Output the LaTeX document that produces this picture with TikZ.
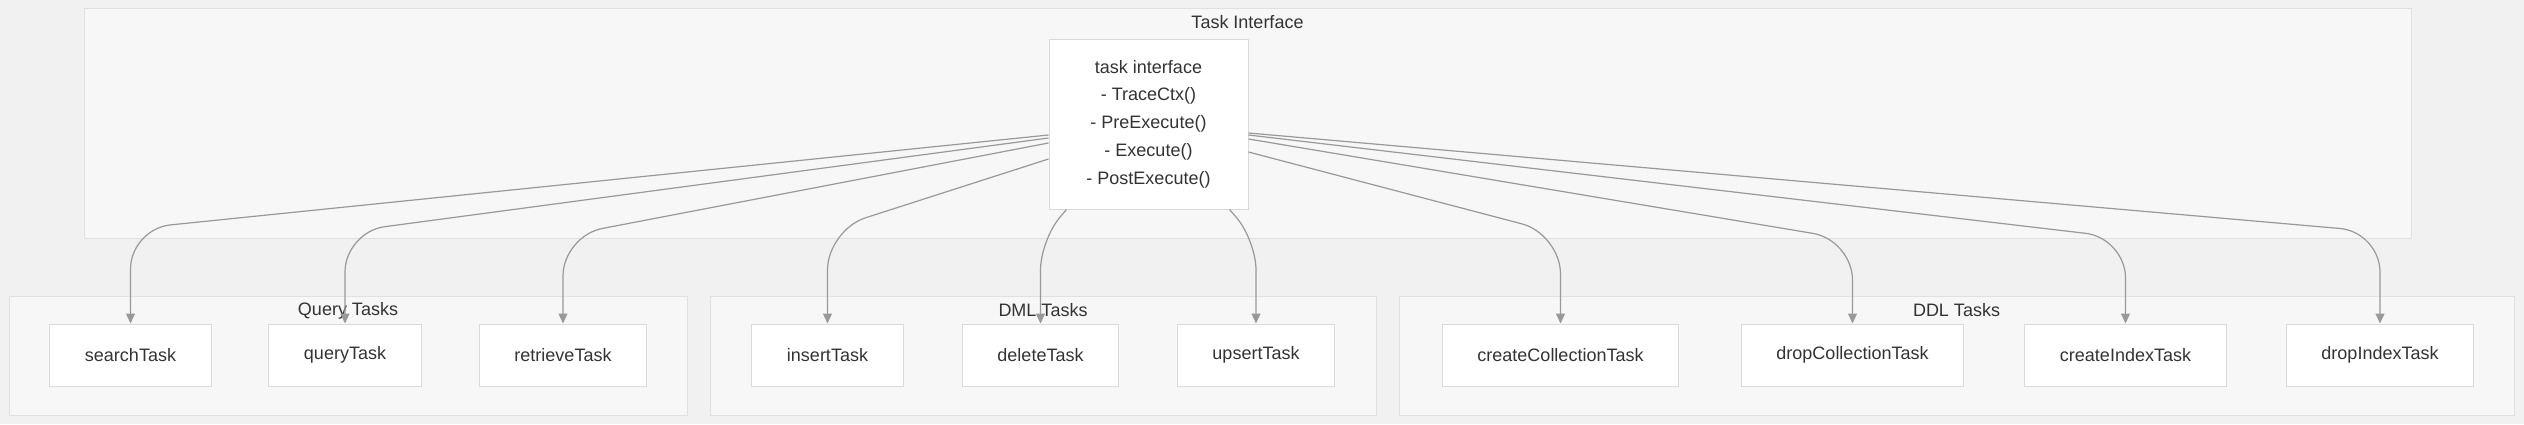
\documentclass[tikz,border=0pt]{standalone}
\usepackage{fontspec}
\setmainfont{Liberation Sans}
\usepackage{xcolor}
\usepackage{tikz}
\usetikzlibrary{arrows.meta}

\definecolor{pagebg}{HTML}{F1F1F1}
\definecolor{groupbg}{HTML}{F7F7F7}
\definecolor{groupline}{HTML}{E0E0E0}
\definecolor{boxline}{HTML}{DADADA}
\definecolor{edgegray}{HTML}{999999}
\definecolor{inktext}{HTML}{333333}

\begin{document}
\begin{tikzpicture}[x=0.5pt,y=-0.5pt,>={Triangle[length=5pt,width=4.5pt]},
  group/.style={draw=groupline,fill=groupbg,line width=0.5pt,inner sep=0pt},
  grouptitle/.style={font=\fontsize{9}{11}\selectfont,text=inktext,inner sep=0pt},
  task/.style={draw=boxline,fill=white,line width=0.5pt,minimum height=31pt,inner xsep=17.5pt,font=\fontsize{9}{11}\selectfont,text=inktext},
  flow/.style={->,draw=edgegray,line width=0.6pt,rounded corners=20pt}]
  \useasboundingbox (0,0) rectangle (2524,424);
  \fill[pagebg] (0,0) rectangle (2524,424);

  % clusters
  \node[group,minimum width=1163.5pt,minimum height=115pt] (tigroup) at (1247.5,123) {};
  \node[grouptitle] (tititle) at ([yshift=-7.5pt]tigroup.north) {Task Interface};
  \node[group,minimum width=339pt,minimum height=59.5pt] (querygroup) at (348,355.5) {};
  \node[grouptitle] (querytitle) at ([yshift=-7.5pt]querygroup.north) {Query Tasks};
  \node[group,minimum width=333pt,minimum height=59.5pt] (dmlgroup) at (1043,355.5) {};
  \node[grouptitle] (dmltitle) at ([yshift=-7.5pt]dmlgroup.north) {DML Tasks};
  \node[group,minimum width=557.5pt,minimum height=59.5pt] (ddlgroup) at (1956.5,355.5) {};
  \node[grouptitle] (ddltitle) at ([yshift=-7.5pt]ddlgroup.north) {DDL Tasks};

  % interface
  \node[task,minimum width=99.5pt,minimum height=85pt,align=center,font=\fontsize{9}{13.85}\selectfont] (ti) at (1148.5,124)
    {task interface\\- TraceCtx()\\- PreExecute()\\- Execute()\\- PostExecute()};

  % tasks
  \node[task] (searchTask) at (130.5,355) {searchTask};
  \node[task] (queryTask) at (345,355) {queryTask};
  \node[task] (retrieveTask) at (563,355) {retrieveTask};
  \node[task] (insertTask) at (827.5,355) {insertTask};
  \node[task] (deleteTask) at (1040.5,355) {deleteTask};
  \node[task] (upsertTask) at (1256,355) {upsertTask};
  \node[task] (createCollectionTask) at (1560.5,355) {createCollectionTask};
  \node[task] (dropCollectionTask) at (1852.5,355) {dropCollectionTask};
  \node[task] (createIndexTask) at (2125.5,355) {createIndexTask};
  \node[task] (dropIndexTask) at (2380,355) {dropIndexTask};

  % edges
  \draw[flow] ([yshift=-5.5pt]ti.west) -- (searchTask.north |- 0,229) -- (searchTask.north);
  \draw[flow] ([yshift=-7pt]ti.west) -- (queryTask.north |- 0,232) -- (queryTask.north);
  \draw[flow] ([yshift=-9.5pt]ti.west) -- (retrieveTask.north |- 0,236) -- (retrieveTask.north);
  \draw[flow] ([yshift=-17.5pt]ti.west) -- (insertTask.north |- 0,230) -- (insertTask.north);
  \draw[flow,rounded corners=15pt] ([xshift=9pt]ti.south west) -- (deleteTask.north |- 0,240) -- (deleteTask.north);
  \draw[flow,rounded corners=15pt] ([xshift=-9.5pt]ti.south east) -- (upsertTask.north |- 0,240) -- (upsertTask.north);
  \draw[flow] ([yshift=-14pt]ti.east) -- (createCollectionTask.north |- 0,234) -- (createCollectionTask.north);
  \draw[flow] ([yshift=-7.5pt]ti.east) -- (dropCollectionTask.north |- 0,240) -- (dropCollectionTask.north);
  \draw[flow] ([yshift=-5.5pt]ti.east) -- (createIndexTask.north |- 0,238) -- (createIndexTask.north);
  \draw[flow] ([yshift=-4.5pt]ti.east) -- (dropIndexTask.north |- 0,232) -- (dropIndexTask.north);
\end{tikzpicture}
\end{document}
